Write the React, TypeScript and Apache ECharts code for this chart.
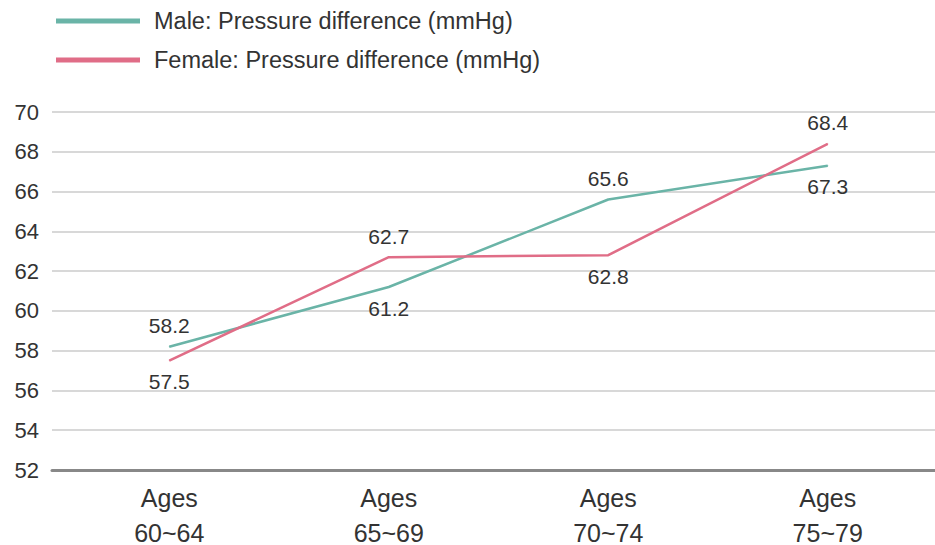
import React, { useEffect, useRef } from "react";
import * as echarts from "echarts";

const categories = ["Ages\n60~64", "Ages\n65~69", "Ages\n70~74", "Ages\n75~79"];
const maleValues = [58.2, 61.2, 65.6, 67.3];
const femaleValues = [57.5, 62.7, 62.8, 68.4];
const maleLabelPos = ["top", "bottom", "top", "bottom"];
const femaleLabelPos = ["bottom", "top", "bottom", "top"];
const seriesNames = ["Male: Pressure difference (mmHg)", "Female: Pressure difference (mmHg)"];

const MALE_COLOR = "#6ab4a7";
const FEMALE_COLOR = "#e06d87";
const FONT = "'Liberation Sans', Arial, sans-serif";

export default function App() {
  const ref = useRef<HTMLDivElement>(null);
  useEffect(() => {
    if (!ref.current) return;
    const chart = echarts.init(ref.current, undefined, { renderer: "svg" });
    const mkData = (vals: number[], pos: string[]) =>
      vals.map((v, i) => ({ value: [i, v], label: { position: pos[i] } }));
    const labelStyle = {
      show: true,
      fontSize: 21,
      color: "#333",
      fontFamily: FONT,
      distance: 10,
      formatter: (p: any) => p.value[1].toFixed(1),
    };
    chart.setOption({
      animation: false,
      textStyle: { fontFamily: FONT },
      legend: {
        orient: "vertical",
        left: 51,
        top: 4,
        itemWidth: 84,
        itemHeight: 5,
        itemGap: 15,
        icon: "rect",
        textStyle: { fontSize: 23.5, color: "#333", fontFamily: FONT, padding: [0, 0, 0, 9] },
        data: seriesNames,
      },
      grid: {
        left: 52,
        right: 0,
        top: 112,
        bottom: 75,
        containLabel: false,
        outerBoundsMode: "none",
      },
      xAxis: {
        type: "value",
        min: -0.5344,
        max: 3.4888,
        axisLine: { show: true, lineStyle: { color: "#888", width: 3 } },
        axisTick: { show: false },
        splitLine: { show: false },
        axisLabel: {
          customValues: [0, 1, 2, 3],
          formatter: (v: number) => categories[Math.round(v)] ?? "",
          fontSize: 25,
          lineHeight: 35,
          color: "#333",
          fontFamily: FONT,
          margin: 10,
        },
      },
      yAxis: {
        type: "value",
        min: 52,
        max: 70,
        interval: 2,
        axisLine: { show: false },
        axisTick: { show: false },
        axisLabel: { fontSize: 22, color: "#333", margin: 13, fontFamily: FONT },
        splitLine: { show: true, lineStyle: { color: "#d8d8d8", width: 2 } },
      },
      series: [
        {
          name: seriesNames[0],
          type: "line",
          data: mkData(maleValues, maleLabelPos),
          symbol: "circle",
          symbolSize: 1,
          lineStyle: { color: MALE_COLOR, width: 2.5 },
          itemStyle: { color: MALE_COLOR },
          label: labelStyle,
        },
        {
          name: seriesNames[1],
          type: "line",
          data: mkData(femaleValues, femaleLabelPos),
          symbol: "circle",
          symbolSize: 1,
          lineStyle: { color: FEMALE_COLOR, width: 2.5 },
          itemStyle: { color: FEMALE_COLOR },
          label: labelStyle,
        },
      ],
    });
    return () => chart.dispose();
  }, []);
  return (
    <div
      ref={ref}
      style={{ position: "fixed", left: 0, top: 0, width: 935, height: 545, background: "#fff" }}
    />
  );
}
